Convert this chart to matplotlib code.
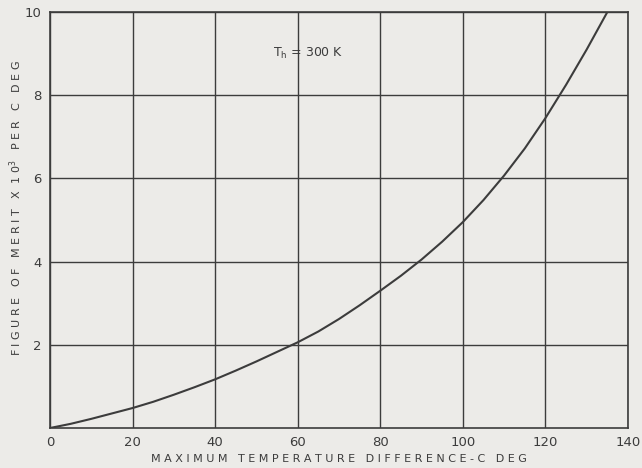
import matplotlib
matplotlib.use("Agg")
import matplotlib.pyplot as plt

# ── Data ──────────────────────────────────────────────────────────────
delta_t = [0, 5, 10, 15, 20, 25, 30, 35, 40, 45, 50, 55, 60, 65, 70,
           75, 80, 85, 90, 95, 100, 105, 110, 115, 120, 125, 130, 135]
merit   = [0.0, 0.1, 0.22, 0.35, 0.48, 0.63, 0.8, 0.98, 1.17, 1.38, 1.6, 1.83,
           2.06, 2.32, 2.62, 2.95, 3.3, 3.66, 4.05, 4.48, 4.95, 5.48, 6.07,
           6.72, 7.45, 8.25, 9.1, 10.0]

x_ticks = [0, 20, 40, 60, 80, 100, 120, 140]
y_ticks = [2, 4, 6, 8, 10]

BG = "#ecebe8"
INK = "#3c3c3c"

fig = plt.figure(figsize=(6.42, 4.68), dpi=100, facecolor=BG)
ax = fig.add_axes([50 / 642, 1 - 428 / 468, 578 / 642, 416 / 468], facecolor=BG)

ax.plot(delta_t, merit, color=INK, lw=1.5)

ax.set_xlim(0, 140)
ax.set_ylim(0, 10)
ax.set_xticks(x_ticks)
ax.set_yticks(y_ticks)
ax.grid(True, color=INK, lw=1.0)
for s in ax.spines.values():
    s.set_color(INK)
    s.set_linewidth(1.2)
ax.tick_params(length=0, colors=INK, labelsize=9.5, pad=6)

ax.set_xlabel("M A X I M U M   T E M P E R A T U R E   D I F F E R E N C E - C   D E G",
              fontsize=8, color=INK, labelpad=3)
ax.set_ylabel(r"F I G U R E   O F   M E R I T   X  1 0$^3$   P E R   C   D E G",
              fontsize=8, color=INK)
ax.yaxis.set_label_coords(-0.045, 0.53)

ax.text(54, 9.0, r"T$_\mathrm{h}$ = 300 K", fontsize=9, color=INK, va="center")

fig.savefig("out.png", dpi=100, facecolor=BG)
